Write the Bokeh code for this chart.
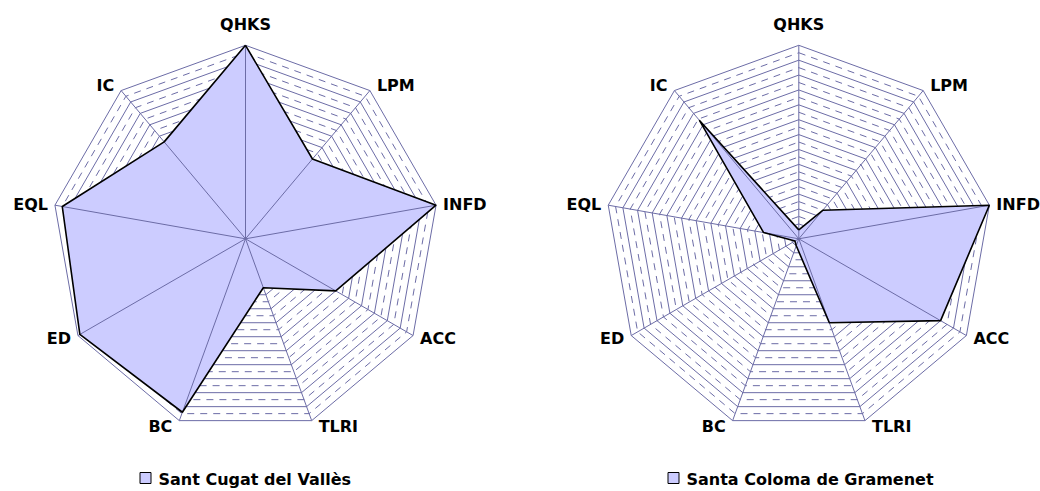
import numpy as np
from bokeh.plotting import figure
from bokeh.models import Range1d
from bokeh.embed import file_html
from bokeh.resources import INLINE
from bokeh.core.properties import value

# ---- data ----
categories = ["QHKS", "LPM", "INFD", "ACC", "TLRI", "BC", "ED", "EQL", "IC"]
sant_cugat = [13.0, 7.0, 13.0, 7.0, 3.5, 12.4, 12.85, 12.5, 8.5]
santa_coloma = [0.6, 2.5, 13.0, 11.0, 6.0, 0.5, 0.3, 2.4, 10.4]
series_names = ["Sant Cugat del Vallès", "Santa Coloma de Gramenet"]
axis_max = 13.0
major_step = 1.0

# ---- style ----
GRID = "#6c6ca6"
FILL = "#ccccff"
FONT = "DejaVu Sans"
W, H = 1040, 491

p = figure(width=W, height=H, output_backend="svg", toolbar_location=None,
           x_range=Range1d(0, W), y_range=Range1d(H, 0),
           min_border=0, outline_line_color=None, background_fill_color="white")
p.axis.visible = False
p.grid.visible = False

R = 193.5
centers = [(245.0, 238.3), (798.3, 238.3)]
legend_x = [145.0, 673.0]
n = len(categories)
angles = np.deg2rad(90 - 40 * np.arange(n))


def pts(cx, cy, radii):
    r = np.asarray(radii, dtype=float) / axis_max * R
    xs = cx + r * np.cos(angles)
    ys = cy - r * np.sin(angles)
    return list(xs), list(ys)


for (cx, cy), vals, name, lgx in zip(centers, [sant_cugat, santa_coloma], series_names, legend_x):
    # grid rings
    nmaj = int(round(axis_max / major_step))
    solid_xs, solid_ys, dash_xs, dash_ys = [], [], [], []
    for k in range(1, nmaj + 1):
        xs, ys = pts(cx, cy, [k * major_step] * n)
        solid_xs.append(xs + [xs[0]]); solid_ys.append(ys + [ys[0]])
        xs, ys = pts(cx, cy, [(k - 0.5) * major_step] * n)
        dash_xs.append(xs + [xs[0]]); dash_ys.append(ys + [ys[0]])
    p.multi_line(dash_xs, dash_ys, line_color=GRID, line_width=1, line_dash="7 6")
    p.multi_line(solid_xs, solid_ys, line_color=GRID, line_width=1)

    # data fill
    vx, vy = pts(cx, cy, vals)
    p.patch(vx, vy, fill_color=FILL, line_color=None)

    # spokes
    ox, oy = pts(cx, cy, [axis_max] * n)
    p.multi_line([[cx, x] for x in ox], [[cy, y] for y in oy], line_color=GRID, line_width=1)

    # data outline
    p.line(vx + [vx[0]], vy + [vy[0]], line_color="black", line_width=1.6)

    # category labels
    for i, cat in enumerate(categories):
        a = angles[i]
        c, s = np.cos(a), np.sin(a)
        if abs(c) < 1e-6:
            x, y, al = ox[i], oy[i] - 21, "center"
        elif c > 0:
            x, y, al = ox[i] + 7, oy[i] - 6 * s, "left"
        else:
            x, y, al = ox[i] - 7, oy[i] - 6 * s, "right"
        p.text([x], [y], text=[cat], text_align=al, text_baseline="middle",
               text_font=value(FONT), text_font_style="bold", text_font_size="16px",
               text_color="black")

    # legend
    p.rect([lgx], [477.5], width=11, height=11, fill_color=FILL, line_color="black", line_width=1)
    p.text([lgx + 13], [478.5], text=[name], text_align="left", text_baseline="middle",
           text_font=value(FONT), text_font_style="bold", text_font_size="16px",
           text_color="black")

open("out.html", "w").write(file_html(p, INLINE))
